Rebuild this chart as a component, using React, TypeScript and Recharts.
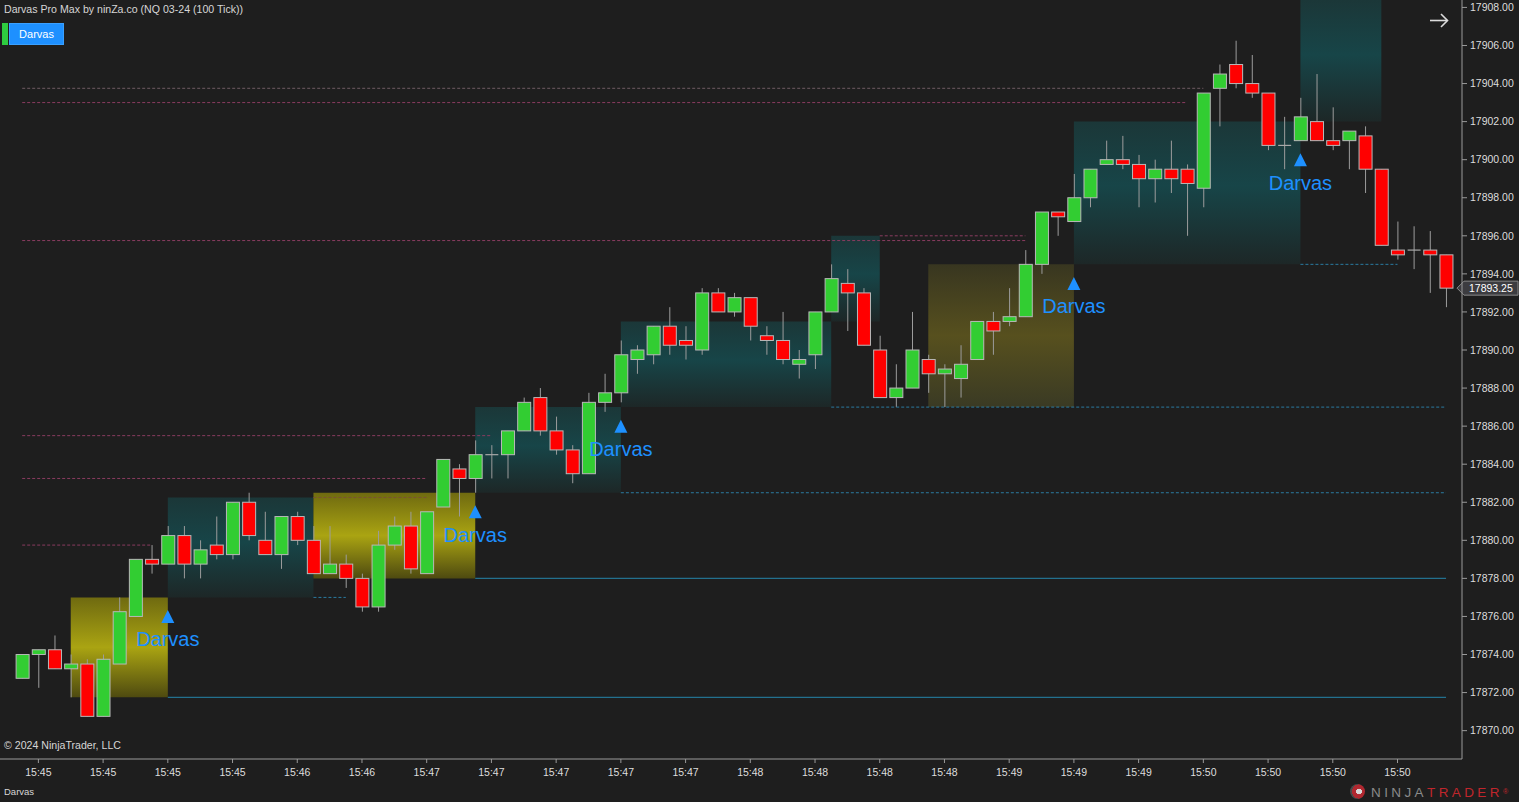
import React from "react";
import {
  Bar,
  ComposedChart,
  ReferenceArea,
  ReferenceLine,
  Scatter,
  XAxis,
  YAxis,
} from "recharts";

// OHLC of 89 tick bars (NQ 03-24, 100 tick)
const opens = [
  17872.75, 17874, 17874.25, 17873.25, 17873.5, 17870.75, 17873.5, 17876, 17879, 17878.75,
  17880.25, 17878.75, 17879.75, 17879.25, 17882, 17880, 17879.25, 17881.25, 17880, 17878.25,
  17878.75, 17878, 17876.5, 17879.75, 17880.75, 17878.25, 17881.75, 17883.75, 17883.25, 17884.5,
  17884.5, 17885.75, 17887.5, 17885.75, 17884.75, 17883.5, 17887.25, 17887.75, 17889.5, 17889.75,
  17891.25, 17890.5, 17890, 17893, 17892, 17892.75, 17890.75, 17890.5, 17889.25, 17889.75,
  17892, 17893.5, 17893, 17890, 17887.5, 17888, 17889.5, 17888.75, 17888.5, 17889.5,
  17891.5, 17891.5, 17891.75, 17894.5, 17897.25, 17896.75, 17898, 17899.75, 17900, 17899.75,
  17899, 17899.5, 17899.5, 17898.5, 17903.75, 17905, 17904, 17903.5, 17900.75, 17901,
  17902, 17901, 17901, 17901.25, 17899.5, 17895.25, 17895.25, 17895.25, 17895,
];
const highs = [
  17874, 17874.25, 17875, 17874, 17873.75, 17874, 17877, 17879, 17879.75, 17880.75,
  17880.75, 17880, 17881.25, 17882, 17882.5, 17881.5, 17881.25, 17881.5, 17880.75, 17880.75,
  17879.25, 17878.25, 17880.5, 17881.25, 17881.5, 17881.5, 17884.25, 17884, 17885.25, 17885,
  17885.75, 17887.5, 17888, 17886.5, 17885, 17887.75, 17888.75, 17890.5, 17890.25, 17891.25,
  17892.25, 17891.25, 17893.25, 17893.25, 17893, 17892.75, 17891.25, 17892, 17890, 17892,
  17894.5, 17894.25, 17893.25, 17890.75, 17889.25, 17892, 17889.75, 17889.25, 17890.25, 17891.5,
  17892, 17893.25, 17895.25, 17897.25, 17897.25, 17899.25, 17899.5, 17901, 17901.25, 17900.25,
  17900, 17901, 17899.75, 17903.5, 17905, 17906.25, 17905.5, 17903.5, 17902.25, 17903.25,
  17904.5, 17902.75, 17901.5, 17901.75, 17899.5, 17896.75, 17896.5, 17896.25, 17895,
];
const lows = [
  17872.75, 17872.25, 17873.25, 17871.75, 17870.75, 17870.75, 17873.5, 17876, 17878.25, 17878.75,
  17878, 17878, 17879, 17879, 17880, 17879.25, 17878.5, 17879.75, 17878.25, 17878.25,
  17877.5, 17876.25, 17876.25, 17879.5, 17878.25, 17878.25, 17881.75, 17881.25, 17882.5, 17883.25,
  17883.25, 17885.75, 17885.5, 17884.5, 17883, 17883.5, 17886.75, 17887.25, 17888.75, 17889.25,
  17889.75, 17889.5, 17889.75, 17892, 17891.75, 17890.5, 17889.75, 17889.25, 17888.5, 17889,
  17892, 17891, 17890.25, 17887.5, 17887, 17888, 17887.75, 17887, 17887.5, 17889.5,
  17889.75, 17891.25, 17891.75, 17894, 17896, 17896.75, 17897.5, 17899.75, 17899.5, 17897.5,
  17897.75, 17898.25, 17896, 17897.5, 17901.75, 17903.75, 17903.25, 17900.5, 17899.5, 17901,
  17901, 17900.5, 17899.5, 17898.25, 17895.5, 17894.75, 17894.25, 17893, 17892.25,
];
const closes = [
  17874, 17874.25, 17873.25, 17873.5, 17870.75, 17873.75, 17876.25, 17879, 17878.75, 17880.25,
  17878.75, 17879.5, 17879.25, 17882, 17880.25, 17879.25, 17881.25, 17880, 17878.25, 17878.75,
  17878, 17876.5, 17879.75, 17880.75, 17878.5, 17881.5, 17884.25, 17883.25, 17884.5, 17884.5,
  17885.75, 17887.25, 17885.75, 17884.75, 17883.5, 17887.25, 17887.75, 17889.75, 17890, 17891.25,
  17890.25, 17890.25, 17893, 17892, 17892.75, 17891.25, 17890.5, 17889.5, 17889.5, 17892,
  17893.75, 17893, 17890.25, 17887.5, 17888, 17890, 17888.75, 17889, 17889.25, 17891.5,
  17891, 17891.75, 17894.5, 17897.25, 17897, 17898, 17899.5, 17900, 17899.75, 17899,
  17899.5, 17899, 17898.75, 17903.5, 17904.5, 17904, 17903.5, 17900.75, 17900.75, 17902.25,
  17901, 17900.75, 17901.5, 17899.5, 17895.5, 17895, 17895.25, 17895, 17893.25,
];

const timeTicks = [1, 5, 9, 13, 17, 21, 25, 29, 33, 37, 41, 45, 49, 53, 57, 61, 65, 69, 73, 77, 81, 85];
const timeLabels = [
  "15:45", "15:45", "15:45", "15:45", "15:46", "15:46", "15:47", "15:47", "15:47", "15:47", "15:47",
  "15:48", "15:48", "15:48", "15:48", "15:49", "15:49", "15:49", "15:50", "15:50", "15:50", "15:50",
];
const priceTicks = [
  17870, 17872, 17874, 17876, 17878, 17880, 17882, 17884, 17886, 17888,
  17890, 17892, 17894, 17896, 17898, 17900, 17902, 17904, 17906, 17908,
];
const lastPrice = 17893.25;

// Darvas boxes (bar index span, price span)
const boxStarts = [3, 9, 18, 28, 37, 50, 56, 65, 79];
const boxEnds = [9, 18, 28, 37, 50, 53, 65, 79, 84];
const boxLows = [17871.75, 17877, 17878, 17882.5, 17887, 17891.5, 17887, 17894.5, 17902];
const boxHighs = [17877, 17882.25, 17882.5, 17887, 17891.5, 17896, 17894.5, 17902, 17910];
const boxKinds = ["yellow", "teal", "yellow", "teal", "teal", "teal", "olive", "teal", "teal"];

// box bottoms carried forward
const supportPrices = [17871.75, 17878, 17882.5, 17887, 17894.5, 17877];
const supportFrom = [9, 28, 37, 50, 79, 18];
const supportTo = [88, 88, 88, 88, 85, 20];
const supportDashed = [false, false, true, true, true, true];

// old highs
const resistPrices = [17879.75, 17883.25, 17885.5, 17895.75, 17896, 17903, 17903.75, 17882.25];
const resistFrom = [0, 0, 0, 0, 53, 0, 0, 18];
const resistTo = [8, 25, 29, 62, 62, 72, 73, 25];
const resistColors = ["#8a3c60", "#8a3c60", "#8a3c60", "#8a3c60", "#8a3c60", "#8a3c60", "#6e5a62", "#7a5234"];

const signalBars = [9, 28, 37, 65, 79];
const signalPrices = [17876, 17881.5, 17886, 17893.5, 17900];

const FONT = '"Liberation Sans", Arial, sans-serif';
const BG = "#1e1e1e";
const Y_MIN = 17868.51;
const Y_MAX = 17908.39;

const candles = opens.map((o, i) => ({
  i,
  open: o,
  high: highs[i],
  low: lows[i],
  close: closes[i],
}));
const signals = signalBars.map((b, k) => ({ i: b, p: signalPrices[k] }));

function Candle(props: any) {
  const { x, y, width, height, payload } = props;
  if (x == null || y == null || !payload) return null;
  const cx = x + width / 2;
  const h = Math.abs(height);
  const top = height >= 0 ? y : y + height;
  const range = payload.high - payload.low;
  const k = range > 0 ? h / range : 0;
  const bTop = top + (payload.high - Math.max(payload.open, payload.close)) * k;
  const bBot = top + (payload.high - Math.min(payload.open, payload.close)) * k;
  const bw = 13;
  const up = payload.close > payload.open;
  const doji = payload.close === payload.open;
  return (
    <g>
      <line x1={cx} x2={cx} y1={top} y2={top + h} stroke="#9c9c9c" strokeWidth={1} />
      {doji ? (
        <line x1={cx - bw / 2} x2={cx + bw / 2} y1={bTop} y2={bTop} stroke="#a8a8a8" strokeWidth={1.2} />
      ) : (
        <rect
          x={cx - bw / 2}
          y={bTop}
          width={bw}
          height={Math.max(bBot - bTop, 1)}
          fill={up ? "#32cd32" : "#ff0000"}
          stroke="#b8b8b8"
          strokeWidth={1}
        />
      )}
    </g>
  );
}

function SignalMark(props: any) {
  const { cx, cy } = props;
  if (cx == null || cy == null) return null;
  return (
    <g>
      <polygon points={`${cx},${cy - 6.5} ${cx - 6.5},${cy + 6.5} ${cx + 6.5},${cy + 6.5}`} fill="#1e90ff" />
      <text x={cx} y={cy + 30} textAnchor="middle" fill="#1e90ff" fontSize={20} fontFamily={FONT}>
        Darvas
      </text>
    </g>
  );
}

function LastPriceTag(props: any) {
  const vb = props.viewBox;
  if (!vb) return null;
  const y = vb.y;
  const x = vb.x + vb.width;
  return (
    <g>
      <polygon
        points={`${x - 5},${y} ${x + 2},${y - 7} ${x + 56},${y - 7} ${x + 56},${y + 7} ${x + 2},${y + 7}`}
        fill="#3c3c40"
        stroke="#8a8a8a"
        strokeWidth={1}
      />
      <text x={x + 7} y={y + 4} fill="#ffffff" fontSize={10.5} fontFamily={FONT}>
        {lastPrice.toFixed(2)}
      </text>
    </g>
  );
}

const gradFor = (kind: string) =>
  kind === "yellow" ? "url(#gYellow)" : kind === "olive" ? "url(#gOlive)" : "url(#gTeal)";

export default function App() {
  return (
    <div style={{ position: "relative", width: 1519, height: 802, background: BG, fontFamily: FONT }}>
      <style>{`body{margin:0;background:${BG};}`}</style>
      <ComposedChart
        width={1519}
        height={802}
        data={candles}
        margin={{ top: 0, right: 0, left: 0, bottom: 0 }}
      >
        <defs>
          <linearGradient id="gTeal" x1="0" y1="0" x2="0" y2="1">
            <stop offset="0%" stopColor="#1b3738" />
            <stop offset="45%" stopColor="#174548" />
            <stop offset="100%" stopColor="#1d2727" />
          </linearGradient>
          <linearGradient id="gYellow" x1="0" y1="0" x2="0" y2="1">
            <stop offset="0%" stopColor="#6f6a10" />
            <stop offset="50%" stopColor="#aaa412" />
            <stop offset="100%" stopColor="#4e4a10" />
          </linearGradient>
          <linearGradient id="gOlive" x1="0" y1="0" x2="0" y2="1">
            <stop offset="0%" stopColor="#383620" />
            <stop offset="50%" stopColor="#57501e" />
            <stop offset="100%" stopColor="#3a3a24" />
          </linearGradient>
        </defs>
        <XAxis
          dataKey="i"
          type="number"
          domain={[-1.372, 88.986]}
          allowDataOverflow
          ticks={timeTicks}
          tickFormatter={(v: number) => timeLabels[timeTicks.indexOf(v)] ?? ""}
          height={43}
          tickSize={4}
          tickMargin={6}
          tick={{ fill: "#dddddd", fontSize: 10.5, fontFamily: FONT }}
          tickLine={{ stroke: "#9a9a9a" }}
          axisLine={{ stroke: "#9a9a9a" }}
          interval={0}
        />
        <YAxis
          orientation="right"
          type="number"
          domain={[Y_MIN, Y_MAX]}
          allowDataOverflow
          ticks={priceTicks}
          tickFormatter={(v: number) => v.toFixed(2)}
          width={57}
          tickSize={5}
          tickMargin={3}
          tick={{ fill: "#dddddd", fontSize: 10.5, fontFamily: FONT }}
          tickLine={{ stroke: "#9a9a9a" }}
          axisLine={{ stroke: "#9a9a9a" }}
          interval={0}
        />
        {boxStarts.map((s, k) => (
          <ReferenceArea
            key={`box${k}`}
            x1={s}
            x2={boxEnds[k]}
            y1={boxLows[k]}
            y2={Math.min(boxHighs[k], Y_MAX)}
            fill={gradFor(boxKinds[k])}
            fillOpacity={1}
            stroke="none"
            ifOverflow="hidden"
          />
        ))}
        {resistPrices.map((p, k) => (
          <ReferenceLine
            key={`res${k}`}
            segment={[
              { x: resistFrom[k], y: p },
              { x: resistTo[k], y: p },
            ]}
            stroke={resistColors[k]}
            strokeDasharray="3 2"
            strokeWidth={1}
          />
        ))}
        {supportPrices.map((p, k) => (
          <ReferenceLine
            key={`sup${k}`}
            segment={[
              { x: supportFrom[k], y: p },
              { x: supportTo[k], y: p },
            ]}
            stroke={supportDashed[k] ? "#2a7aa0" : "#23708e"}
            strokeDasharray={supportDashed[k] ? "3 2" : undefined}
            strokeWidth={supportDashed[k] ? 1 : 1.4}
          />
        ))}
        <Scatter data={signals} dataKey="p" shape={<SignalMark />} isAnimationActive={false} />
        <Bar
          dataKey={(d: any) => [d.low, d.high]}
          barSize={13}
          shape={<Candle />}
          isAnimationActive={false}
        />
        <ReferenceLine y={lastPrice} stroke="none" label={<LastPriceTag />} />
      </ComposedChart>

      <div style={{ position: "absolute", left: 4, top: 3, fontSize: 10.6, color: "#d6d6d6" }}>
        Darvas Pro Max by ninZa.co (NQ 03-24 (100 Tick))
      </div>
      <div style={{ position: "absolute", left: 2, top: 23, width: 6, height: 22, background: "#2ecc40" }} />
      <div
        style={{
          position: "absolute",
          left: 9,
          top: 23,
          width: 55,
          height: 22,
          background: "#1e90ff",
          boxSizing: "border-box",
          border: "1px solid #3aa0ff",
          color: "#ffffff",
          fontSize: 11,
          lineHeight: "20px",
          textAlign: "center",
        }}
      >
        Darvas
      </div>
      <svg style={{ position: "absolute", left: 1426, top: 10 }} width={26} height={22}>
        <line x1={4} y1={10.5} x2={21} y2={10.5} stroke="#dcdcdc" strokeWidth={1.6} />
        <polyline points="15,4 21.5,10.5 15,17" fill="none" stroke="#dcdcdc" strokeWidth={1.6} />
      </svg>
      <div style={{ position: "absolute", left: 4, top: 739, fontSize: 10.6, color: "#d6d6d6" }}>
        © 2024 NinjaTrader, LLC
      </div>
      <div style={{ position: "absolute", left: 4, top: 786, fontSize: 9.5, color: "#d6d6d6" }}>Darvas</div>
      <div
        style={{
          position: "absolute",
          left: 1350,
          top: 784,
          fontSize: 13.5,
          letterSpacing: 3.4,
          lineHeight: "16px",
          whiteSpace: "nowrap",
        }}
      >
        <span
          style={{
            display: "inline-block",
            width: 15,
            height: 15,
            borderRadius: "50%",
            background: "radial-gradient(circle at 60% 50%, #d8d8d8 0 25%, #b02830 26% 60%, #4a4a4a 61%)",
            marginRight: 6,
            verticalAlign: "-2px",
          }}
        />
        <span style={{ color: "#8a8a8a", fontWeight: 300 }}>NINJA</span>
        <span style={{ color: "#c0262c" }}>TRADER</span>
        <span style={{ color: "#c0262c", fontSize: 7, verticalAlign: "top", letterSpacing: 0 }}>®</span>
      </div>
    </div>
  );
}
